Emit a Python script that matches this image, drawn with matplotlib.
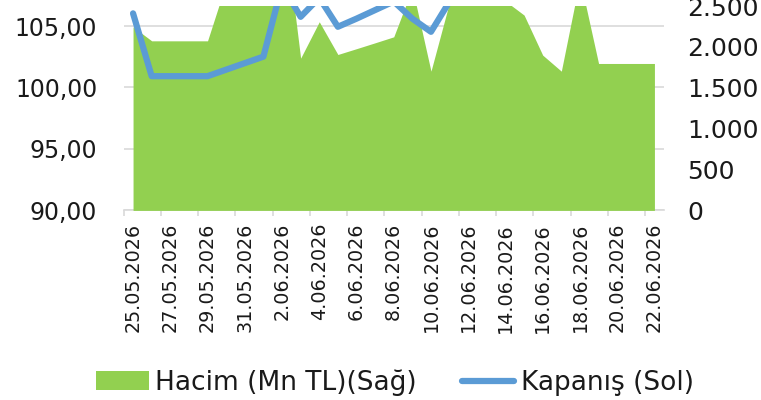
import numpy as np
import pandas as pd
import matplotlib
matplotlib.use('Agg')
import matplotlib.pyplot as plt
from matplotlib.ticker import FuncFormatter
from matplotlib.patches import Patch
from matplotlib.lines import Line2D

# dates on the category axis
dates = [f"{d.day}.{d.month:02d}.{d.year}" for d in pd.date_range('2026-05-25', '2026-06-22')]

# volume, Mn TL (right axis)
hacim = [2245, 2074, 2074, 2074, 2074, 2780, 3000, 3200, 3700, 1862,
         2307, 1907, 1978, 2050, 2123, 2720, 1703, 2550, 2800, 2900,
         2560, 2389, 1899, 1703, 2830, 1797, 1797, 1797, 1797]

# closing price (left axis)
kapanis = [106.03, 100.92, 100.92, 100.92, 100.92, 101.45, 101.98, 102.51, 108.30, 105.75,
           107.30, 104.94, 105.60, 106.30, 107.00, 105.60, 104.53, 107.00, 107.80, 108.10,
           108.40, 108.20, 108.60, 108.90, 108.50, 108.70, 109.00, 108.80, 108.90]

left_ticks = [90, 95, 100, 105]
right_ticks = [0, 500, 1000, 1500, 2000, 2500]

GREEN = '#92D050'
BLUE = '#5B9BD5'
GRID = '#D9D9D9'
TXT = '#1a1a1a'

plt.rcParams['font.family'] = ['DejaVu Sans']

fig = plt.figure(figsize=(7.61, 4.0), dpi=100)
ax = fig.add_axes([0.1626, 0.474, 0.7096, 0.511])
ax2 = ax.twinx()
ax3 = ax.twinx()

x = np.arange(len(dates))

# volume area on the right axis
ax2.fill_between(x, 0, hacim, color=GREEN, linewidth=0)
ax2.set_ylim(0, 2500)
ax2.set_yticks(right_ticks)
ax2.yaxis.set_major_formatter(FuncFormatter(lambda v, p: f"{v:,.0f}".replace(',', '.')))
ax2.tick_params(axis='y', length=0, pad=17, labelsize=18, labelcolor=TXT)

# closing line on its own axes so it sits above the area
ax3.plot(x, kapanis, color=BLUE, lw=4.5, solid_capstyle='round', solid_joinstyle='round')
ax3.set_ylim(90, 106.63)
ax3.set_yticks([])

ax.set_ylim(90, 106.63)
ax.set_yticks(left_ticks)
ax.yaxis.set_major_formatter(FuncFormatter(lambda v, p: f"{v:.2f}".replace('.', ',')))
ax.tick_params(axis='y', length=0, pad=19, labelsize=17, labelcolor=TXT)
ax.grid(axis='y', color=GRID, lw=1.2)

ax.set_xlim(-0.5, len(dates) - 0.5)
ax.set_xticks(x[::2])
ax.set_xticklabels(dates[::2], rotation=90, fontsize=13.8, color=TXT)
ax.set_xticks(np.arange(-0.5, len(dates) - 1, 2), minor=True)
ax.tick_params(axis='x', which='major', length=0, pad=9)
ax.tick_params(axis='x', which='minor', length=4, color=GRID, width=1.2)

for a in (ax, ax2, ax3):
    for s in a.spines.values():
        s.set_visible(False)
ax.spines['bottom'].set_visible(True)
ax.spines['bottom'].set_color(GRID)
ax.spines['bottom'].set_linewidth(1.2)

handles = [Patch(facecolor=GREEN, edgecolor='none'),
           Line2D([0], [0], color=BLUE, lw=4.5, solid_capstyle='round')]
fig.legend(handles, ['Hacim (Mn TL)(Sağ)', 'Kapanış (Sol)'], loc='center',
           bbox_to_anchor=(0.519, 0.043), ncol=2, frameon=False, fontsize=19,
           handlelength=2.0, handleheight=0.73, handletextpad=0.23, columnspacing=1.7,
           labelcolor=TXT, borderpad=0.2)

fig.savefig('out.png', dpi=100)
